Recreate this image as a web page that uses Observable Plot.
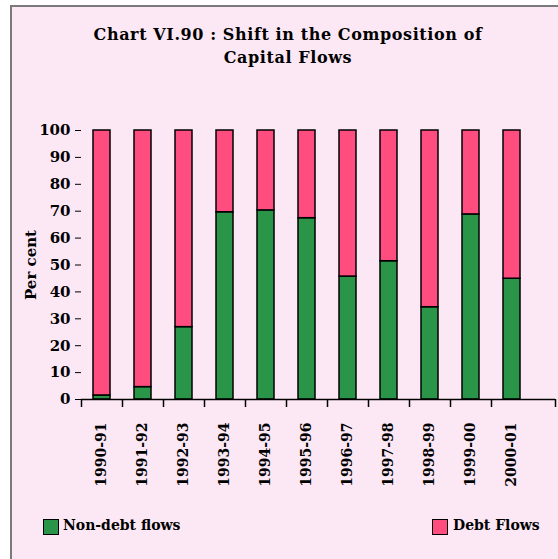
<!DOCTYPE html>
<html>
<head>
<meta charset="utf-8">
<script src="https://cdn.jsdelivr.net/npm/d3@7"></script>
<script src="https://cdn.jsdelivr.net/npm/@observablehq/plot@0.6"></script>
<style>
  html, body { margin: 0; padding: 0; background: #ffffff; }
  #page { position: relative; width: 558px; height: 559px; overflow: hidden; }
  #frame { position: absolute; left: 10px; top: 5px; width: 560px; height: 570px;
           border-left: 2px solid #7a7a7a; border-top: 2px solid #7a7a7a; background: #fce8f4; }
  #title { position: absolute; left: 0; width: 576px; top: 23px; text-align: center;
           font: bold 16px "DejaVu Serif", serif; letter-spacing: 0.6px; line-height: 23px; color: #000; }
  #chart { position: absolute; left: 0; top: 0; }
  .leg { position: absolute; font: bold 14px "DejaVu Serif", serif; color: #000; white-space: nowrap; }
  .sw { position: absolute; width: 14px; height: 14px; border: 1.5px solid #000; }
</style>
</head>
<body>
<div id="page">
  <div id="frame"></div>
  <div id="title">Chart VI.90 : Shift in the Composition of<br>Capital Flows</div>
  <div id="chart"></div>
  <div class="sw" style="left:43px; top:519px; background:#2a9548;"></div>
  <div class="leg" style="left:63px; top:517px;">Non-debt flows</div>
  <div class="sw" style="left:432px; top:519px; background:#ff4d80;"></div>
  <div class="leg" style="left:453px; top:517px;">Debt Flows</div>
</div>
<script>
const years = ["1990-91","1991-92","1992-93","1993-94","1994-95","1995-96","1996-97","1997-98","1998-99","1999-00","2000-01"];
const nonDebt = [1.5, 4.6, 26.9, 69.6, 70.3, 67.4, 45.7, 51.4, 34.3, 68.8, 44.9];
const debt    = [98.5, 95.4, 73.1, 30.4, 29.7, 32.6, 54.3, 48.6, 65.7, 31.2, 55.1];
const seriesNames = ["Non-debt flows", "Debt Flows"];
const seriesColors = ["#2a9548", "#ff4d80"];
const yTicks = [0,10,20,30,40,50,60,70,80,90,100];

const rows = [];
years.forEach((y, i) => {
  rows.push({year: y, series: seriesNames[0], value: nonDebt[i]});
  rows.push({year: y, series: seriesNames[1], value: debt[i]});
});

const W = 558, H = 500;
const mL = 81, mR = 26, mT = 130, mB = 101;
const bandW = (W - mL - mR) / years.length;

const chart = Plot.plot({
  width: W, height: H,
  marginLeft: mL, marginRight: mR, marginTop: mT, marginBottom: mB,
  style: {background: "transparent", fontFamily: "'DejaVu Serif', serif", fontWeight: "bold", color: "#000"},
  x: {domain: years, paddingInner: 0.58, paddingOuter: 0.29, align: 0.5},
  y: {domain: [0, 100]},
  color: {domain: seriesNames, range: seriesColors},
  marks: [
    Plot.barY(rows, Plot.stackY({x: "year", y: "value", fill: "series", order: seriesNames, stroke: "#000", strokeWidth: 1.5})),
    Plot.ruleY([0], {stroke: "#000", strokeWidth: 1.5, insetRight: -23}),
    Plot.ruleX(years, {x: d => d, dx: -bandW / 2, y1: 0, y2: 0, insetBottom: -8, stroke: "#000", strokeWidth: 1.5}),
    Plot.ruleX([years[years.length - 1]], {x: d => d, dx: bandW / 2 + 23, y1: 0, y2: 0, insetBottom: -8, stroke: "#000", strokeWidth: 1.5}),
    Plot.axisY({ticks: yTicks, tickSize: 6, tickPadding: 5, fontSize: 15, fontWeight: "bold",
      label: "Per cent", labelAnchor: "center", labelArrow: "none", labelOffset: 56}),
    Plot.axisX({tickSize: 0, tickRotate: -90, tickPadding: 23, fontSize: 14, fontWeight: "bold", label: null})
  ]
});
document.getElementById("chart").appendChild(chart);
</script>
</body>
</html>
